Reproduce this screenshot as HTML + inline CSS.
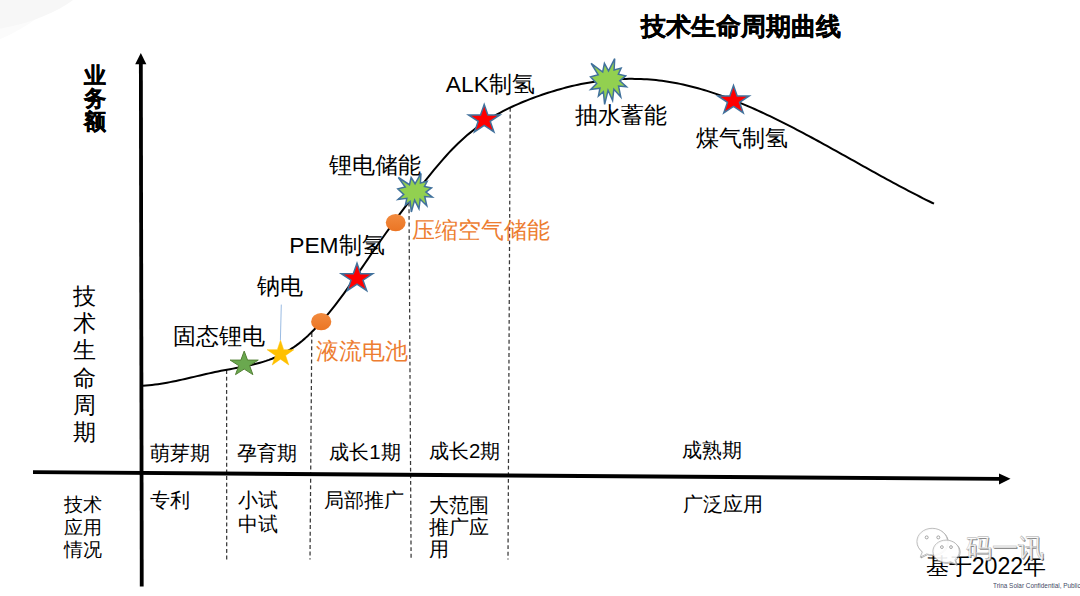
<!DOCTYPE html>
<html><head><meta charset="utf-8"><style>
html,body{margin:0;padding:0;}
body{width:1080px;height:596px;position:relative;overflow:hidden;background:#fff;font-family:"Liberation Sans",sans-serif;color:#000;}
.t{position:absolute;white-space:nowrap;line-height:1;}
svg{position:absolute;left:0;top:0;}
.or{color:#ED7D31;}
</style></head><body>
<svg id="bg" width="1080" height="596" viewBox="0 0 1080 596">
<defs>
<linearGradient id="og" x1="0" y1="0" x2="0" y2="1"><stop offset="0" stop-color="#F28B3F"/><stop offset="1" stop-color="#EB7524"/></linearGradient>
<radialGradient id="tl" cx="0" cy="0" r="1" gradientUnits="userSpaceOnUse" gradientTransform="translate(-5,-20) scale(110,62)">
<stop offset="0" stop-color="#f3f3f3"/><stop offset="0.75" stop-color="#f6f6f6"/><stop offset="1" stop-color="#ffffff"/></radialGradient>
</defs>
<ellipse cx="-20" cy="-40" rx="125" ry="80" transform="rotate(-30 -20 -40)" fill="#fbfbfb"/>
<ellipse cx="-10" cy="-12" rx="102" ry="42" transform="rotate(-10 -10 -12)" fill="#f7f7f7"/>
<g stroke="#383838" stroke-width="1.25" stroke-dasharray="3.9,2.725" fill="none">
<line x1="226.6" y1="370.1" x2="226.7" y2="559.5"/>
<line x1="311.8" y1="333" x2="310.0" y2="559.5"/>
<line x1="409.0" y1="202.7" x2="411.1" y2="559.5"/>
<line x1="510.2" y1="107.9" x2="508.0" y2="559.5"/>
</g>
<path d="M143.0,385.80 L146.0,385.58 L149.0,385.31 L152.0,384.98 L155.0,384.61 L158.0,384.19 L161.0,383.73 L164.0,383.23 L167.0,382.70 L170.0,382.13 L173.0,381.54 L176.0,380.92 L179.0,380.28 L182.0,379.62 L185.0,378.94 L188.0,378.25 L191.0,377.56 L194.0,376.85 L197.0,376.15 L200.0,375.45 L203.0,374.75 L206.0,374.06 L209.0,373.38 L212.0,372.71 L215.0,372.06 L218.0,371.44 L221.0,370.83 L224.0,370.25 L227.0,369.70 L230.0,369.15 L233.0,368.61 L236.0,368.06 L239.0,367.51 L242.0,366.93 L245.0,366.34 L248.0,365.71 L251.0,365.05 L254.0,364.34 L257.0,363.57 L260.0,362.75 L263.0,361.86 L266.0,360.90 L269.0,359.85 L272.0,358.72 L275.0,357.49 L278.0,356.16 L281.0,354.71 L284.0,353.16 L287.0,351.47 L290.0,349.66 L293.0,347.70 L296.0,345.60 L299.0,343.35 L302.0,340.94 L305.0,338.37 L308.0,335.65 L311.0,332.78 L314.0,329.77 L317.0,326.62 L320.0,323.35 L323.0,319.96 L326.0,316.45 L329.0,312.83 L332.0,309.10 L335.0,305.28 L338.0,301.37 L341.0,297.37 L344.0,293.30 L347.0,289.15 L350.0,284.93 L353.0,280.66 L356.0,276.34 L359.0,272.00 L362.0,267.62 L365.0,263.24 L368.0,258.85 L371.0,254.47 L374.0,250.12 L377.0,245.79 L380.0,241.49 L383.0,237.24 L386.0,233.01 L389.0,228.83 L392.0,224.67 L395.0,220.55 L398.0,216.46 L401.0,212.40 L404.0,208.37 L407.0,204.38 L410.0,200.42 L413.0,196.49 L416.0,192.60 L419.0,188.74 L422.0,184.92 L425.0,181.13 L428.0,177.38 L431.0,173.66 L434.0,169.99 L437.0,166.38 L440.0,162.83 L443.0,159.36 L446.0,155.98 L449.0,152.69 L452.0,149.52 L455.0,146.46 L458.0,143.51 L461.0,140.69 L464.0,137.97 L467.0,135.36 L470.0,132.86 L473.0,130.45 L476.0,128.15 L479.0,125.93 L482.0,123.81 L485.0,121.77 L488.0,119.82 L491.0,117.94 L494.0,116.15 L497.0,114.42 L500.0,112.76 L503.0,111.17 L506.0,109.63 L509.0,108.16 L512.0,106.74 L515.0,105.37 L518.0,104.05 L521.0,102.77 L524.0,101.53 L527.0,100.33 L530.0,99.16 L533.0,98.03 L536.0,96.92 L539.0,95.84 L542.0,94.80 L545.0,93.78 L548.0,92.80 L551.0,91.84 L554.0,90.92 L557.0,90.03 L560.0,89.18 L563.0,88.35 L566.0,87.56 L569.0,86.80 L572.0,86.08 L575.0,85.38 L578.0,84.72 L581.0,84.10 L584.0,83.51 L587.0,82.95 L590.0,82.43 L593.0,81.94 L596.0,81.49 L599.0,81.07 L602.0,80.69 L605.0,80.34 L608.0,80.03 L611.0,79.75 L614.0,79.51 L617.0,79.31 L620.0,79.15 L623.0,79.02 L626.0,78.93 L629.0,78.87 L632.0,78.86 L635.0,78.88 L638.0,78.94 L641.0,79.04 L644.0,79.17 L647.0,79.35 L650.0,79.57 L653.0,79.82 L656.0,80.11 L659.0,80.45 L662.0,80.82 L665.0,81.24 L668.0,81.69 L671.0,82.18 L674.0,82.71 L677.0,83.28 L680.0,83.89 L683.0,84.53 L686.0,85.21 L689.0,85.92 L692.0,86.67 L695.0,87.46 L698.0,88.27 L701.0,89.12 L704.0,90.00 L707.0,90.91 L710.0,91.86 L713.0,92.83 L716.0,93.83 L719.0,94.86 L722.0,95.92 L725.0,97.01 L728.0,98.13 L731.0,99.27 L734.0,100.43 L737.0,101.63 L740.0,102.84 L743.0,104.08 L746.0,105.35 L749.0,106.63 L752.0,107.94 L755.0,109.27 L758.0,110.62 L761.0,111.99 L764.0,113.38 L767.0,114.79 L770.0,116.22 L773.0,117.66 L776.0,119.12 L779.0,120.60 L782.0,122.09 L785.0,123.60 L788.0,125.12 L791.0,126.66 L794.0,128.21 L797.0,129.77 L800.0,131.35 L803.0,132.93 L806.0,134.53 L809.0,136.13 L812.0,137.75 L815.0,139.37 L818.0,141.00 L821.0,142.64 L824.0,144.29 L827.0,145.94 L830.0,147.60 L833.0,149.26 L836.0,150.93 L839.0,152.60 L842.0,154.27 L845.0,155.94 L848.0,157.62 L851.0,159.30 L854.0,160.98 L857.0,162.66 L860.0,164.34 L863.0,166.01 L866.0,167.69 L869.0,169.36 L872.0,171.03 L875.0,172.69 L878.0,174.35 L881.0,176.01 L884.0,177.66 L887.0,179.30 L890.0,180.93 L893.0,182.56 L896.0,184.18 L899.0,185.79 L902.0,187.39 L905.0,188.98 L908.0,190.56 L911.0,192.13 L914.0,193.68 L917.0,195.23 L920.0,196.76 L923.0,198.27 L926.0,199.77 L929.0,201.26 L932.0,202.73 L934.0,203.70" fill="none" stroke="#000" stroke-width="2.0" stroke-linejoin="round"/>
<line x1="141.75" y1="586.5" x2="140.85" y2="62" stroke="#000" stroke-width="3.8"/>
<polygon points="140.8,53 135.2,64.3 146.4,64.3" fill="#000"/>
<line x1="33" y1="472.2" x2="1000" y2="478.9" stroke="#000" stroke-width="3.8"/>
<polygon points="1010.5,478.8 999,473.4 999,484.4" fill="#000"/>
<line x1="281.3" y1="304.6" x2="280.4" y2="340" stroke="#8FB3DF" stroke-width="0.9"/>
<polygon points="244.20,351.10 247.52,360.08 258.28,360.08 249.58,365.63 252.90,374.62 244.20,369.07 235.50,374.62 238.82,365.63 230.12,360.08 240.88,360.08" fill="#6AA84F" stroke="#538135" stroke-width="1"/>
<polygon points="280.50,340.20 283.67,349.67 293.91,349.67 285.62,355.52 288.79,364.98 280.50,359.13 272.21,364.98 275.38,355.52 267.09,349.67 277.33,349.67" fill="#FFC000" stroke="#FFC000" stroke-width="0.5"/>
<ellipse cx="321.2" cy="321.7" rx="10.1" ry="8.6" fill="url(#og)"/>
<ellipse cx="395.7" cy="222.6" rx="9.9" ry="8.6" fill="url(#og)"/>
<polygon points="357.00,263.30 360.70,273.73 372.69,273.73 362.99,280.18 366.70,290.62 357.00,284.17 347.30,290.62 351.01,280.18 341.31,273.73 353.30,273.73" fill="#FF0000" stroke="#41719C" stroke-width="1.5" stroke-linejoin="miter"/>
<polygon points="484.20,104.45 487.90,114.88 499.89,114.88 490.19,121.33 493.90,131.77 484.20,125.32 474.50,131.77 478.21,121.33 468.51,114.88 480.50,114.88" fill="#FF0000" stroke="#41719C" stroke-width="1.5"/>
<polygon points="733.50,85.46 737.20,95.89 749.19,95.89 739.49,102.34 743.20,112.78 733.50,106.33 723.80,112.78 727.51,102.34 717.81,95.89 729.80,95.89" fill="#FF0000" stroke="#41719C" stroke-width="1.5"/>
<polygon points="415.05,183.76 420.99,173.40 420.41,182.92 427.16,181.36 424.48,186.47 431.50,187.94 425.92,192.12 432.30,197.15 424.69,196.53 426.78,205.74 420.19,199.24 418.96,208.67 414.62,200.09 411.35,212.00 410.12,201.33 405.41,204.88 406.85,198.31 398.02,199.47 403.74,194.44 397.80,188.80 405.19,187.01 398.39,177.50 409.48,184.69 411.14,177.50" fill="#92D050" stroke="#41719C" stroke-width="1.5"/>
<polygon points="608.50,70.90 614.70,58.60 614.09,69.89 621.13,68.05 618.34,74.11 625.66,75.85 619.85,80.81 626.50,86.78 618.56,86.04 620.74,96.97 613.87,89.25 612.58,100.45 608.05,90.27 604.64,104.40 603.36,91.74 598.44,95.95 599.95,88.15 590.73,89.53 596.70,83.57 590.50,76.87 598.21,74.75 591.12,63.47 602.69,72.00 604.42,63.47" fill="#92D050" stroke="#41719C" stroke-width="1.5"/>
</svg>
<div id="title" class="t" style="left:641.36px;top:15.40px;font-size:24.80px;font-weight:bold;-webkit-text-stroke:0.35px #000">技术生命周期曲线</div>
<div id="yewu" class="t" style="left:83.90px;top:65.20px;font-size:21.70px;line-height:22.80px;font-weight:bold;-webkit-text-stroke:0.45px #000">业<br>务<br>额</div>
<div id="js6" class="t" style="left:72.81px;top:283.30px;font-size:23.38px;line-height:27.08px;">技<br>术<br>生<br>命<br>周<br>期</div>
<div id="jsyy" class="t" style="left:64.10px;top:492.60px;font-size:19.41px;line-height:22.90px;">技术<br>应用<br>情况</div>
<div id="p1" class="t" style="left:150.41px;top:442.90px;font-size:20.40px;">萌芽期</div>
<div id="p2" class="t" style="left:237.44px;top:443.30px;font-size:20.40px;">孕育期</div>
<div id="p3" class="t" style="left:329.26px;top:441.50px;font-size:20.40px;">成长1期</div>
<div id="p4" class="t" style="left:429.00px;top:440.90px;font-size:20.40px;">成长2期</div>
<div id="p5" class="t" style="left:682.37px;top:440.00px;font-size:20.40px;">成熟期</div>
<div id="a1" class="t" style="left:150.22px;top:490.40px;font-size:20.40px;">专利</div>
<div id="a2" class="t" style="left:238.30px;top:489.20px;font-size:20.40px;line-height:23.50px;">小试<br>中试</div>
<div id="a3" class="t" style="left:324.28px;top:490.00px;font-size:20.40px;">局部推广</div>
<div id="a4" class="t" style="left:429.30px;top:495.10px;font-size:20.40px;line-height:21.95px;">大范围<br>推广应<br>用</div>
<div id="a5" class="t" style="left:683.39px;top:494.10px;font-size:20.40px;">广泛应用</div>
<div id="l1" class="t" style="left:173.24px;top:325.10px;font-size:22.80px;">固态锂电</div>
<div id="l2" class="t" style="left:257.19px;top:275.20px;font-size:22.80px;">钠电</div>
<div id="l3" class="t" style="left:289.19px;top:233.60px;font-size:22.80px;">PEM制氢</div>
<div id="l4" class="t" style="left:329.10px;top:154.20px;font-size:22.80px;">锂电储能</div>
<div id="l5" class="t" style="left:445.80px;top:72.70px;font-size:22.80px;">ALK制氢</div>
<div id="l6" class="t" style="left:574.60px;top:104.40px;font-size:22.80px;">抽水蓄能</div>
<div id="l7" class="t" style="left:695.80px;top:127.40px;font-size:22.80px;">煤气制氢</div>
<div id="o1" class="t or" style="left:315.57px;top:340.40px;font-size:22.80px;">液流电池</div>
<div id="o2" class="t or" style="left:412.12px;top:219.40px;font-size:22.80px;">压缩空气储能</div>
<div id="base" class="t" style="left:925.64px;top:554.90px;font-size:23.19px;">基于2022年</div>
<div id="trina" class="t" style="left:993px;top:582.2px;font-size:8px;color:#3f4a66;transform:scaleX(0.8);transform-origin:0 0">Trina Solar Confidential, Public</div>
<svg id="wm" width="1080" height="596" viewBox="0 0 1080 596">
<g transform="translate(0.8,0.8)" fill="none" stroke="#8a8a8a" stroke-width="1" opacity="0.7"><path d="M932.2,528.3 C923.6,528.3 916.9,534.3 916.9,541.6 C916.9,545.7 919,549.3 922.3,551.8 L920.2,557.2 L926.6,553.9 C928.3,554.5 930.2,554.8 932.2,554.8 C940.7,554.8 947.5,548.9 947.5,541.6 C947.5,534.3 940.7,528.3 932.2,528.3 Z"/></g>
<path d="M932.2,528.3 C923.6,528.3 916.9,534.3 916.9,541.6 C916.9,545.7 919,549.3 922.3,551.8 L920.2,557.2 L926.6,553.9 C928.3,554.5 930.2,554.8 932.2,554.8 C940.7,554.8 947.5,548.9 947.5,541.6 C947.5,534.3 940.7,528.3 932.2,528.3 Z" fill="#fff" fill-opacity="0.9" stroke="#b0b0b0" stroke-width="0.8"/>
<g transform="translate(0.8,0.8)" fill="none" stroke="#8a8a8a" stroke-width="1" opacity="0.7"><path d="M946.1,540.1 C938.8,540.1 932.9,545.1 932.9,551.3 C932.9,557.5 938.8,562.5 946.1,562.5 C947.7,562.5 949.2,562.3 950.6,561.8 L956.4,564.5 L954.9,559.6 C957.7,557.6 959.3,554.6 959.3,551.3 C959.3,545.1 953.4,540.1 946.1,540.1 Z"/></g>
<path d="M946.1,540.1 C938.8,540.1 932.9,545.1 932.9,551.3 C932.9,557.5 938.8,562.5 946.1,562.5 C947.7,562.5 949.2,562.3 950.6,561.8 L956.4,564.5 L954.9,559.6 C957.7,557.6 959.3,554.6 959.3,551.3 C959.3,545.1 953.4,540.1 946.1,540.1 Z" fill="#fff" fill-opacity="0.9" stroke="#b0b0b0" stroke-width="0.8"/>
<g fill="#fff" stroke="#9a9a9a" stroke-width="0.9">
<circle cx="926.7" cy="537.4" r="1.5"/><circle cx="938.3" cy="537.4" r="1.5"/>
<circle cx="941.9" cy="547.1" r="1.4"/><circle cx="951" cy="547.1" r="1.4"/>
</g>
</svg>
<div id="wmt" class="t" style="left:966px;top:535px;font-size:26px;color:rgba(255,255,255,0.92);-webkit-text-stroke:0.4px #a8a8a8;text-shadow:0.8px 0.8px 0.6px rgba(90,90,90,0.75);">码一讯</div>
</body></html>
